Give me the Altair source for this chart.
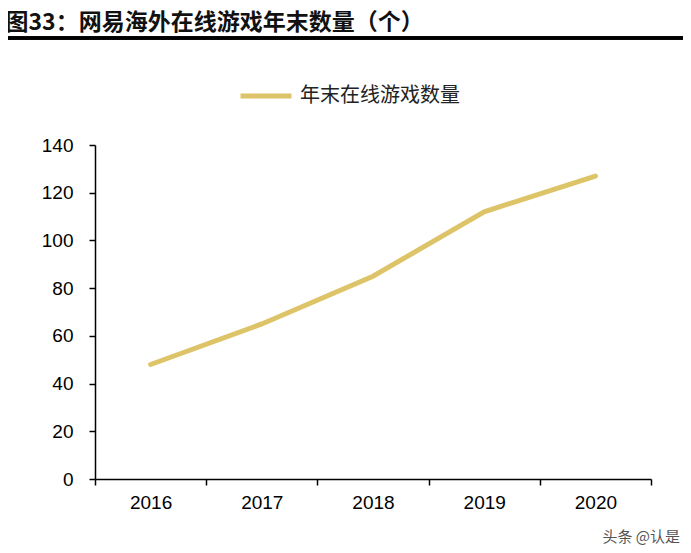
import altair as alt
import pandas as pd

years = ["2016", "2017", "2018", "2019", "2020"]
values = [48, 65, 85, 112, 127]
series_name = "年末在线游戏数量"
title_text = "图33：网易海外在线游戏年末数量（个）"
watermark = "头条 @认是"

df = pd.DataFrame({"year": years, "value": values, "series": [series_name] * len(years)})

line = alt.Chart(df).mark_line(strokeWidth=5, strokeCap="round").encode(
    x=alt.X("year:O", bandPosition=0.5,
            scale=alt.Scale(type="band", paddingInner=0, paddingOuter=0),
            axis=alt.Axis(title=None, labelAngle=0, tickBand="extent",
                          labelFont="Liberation Sans", labelFontSize=19, labelColor="#000",
                          domainColor="#000", domainWidth=1.5, tickColor="#000", tickWidth=1.5,
                          tickSize=6, labelPadding=8)),
    y=alt.Y("value:Q", scale=alt.Scale(domain=[0, 140]),
            axis=alt.Axis(title=None, values=[0, 20, 40, 60, 80, 100, 120, 140],
                          labelFont="Liberation Sans", labelFontSize=19, labelColor="#000",
                          domainColor="#000", domainWidth=1.5, tickColor="#000", tickWidth=1.5,
                          tickSize=6, labelPadding=16, grid=False)),
    color=alt.Color("series:N", scale=alt.Scale(range=["#DEC468"]),
                    legend=alt.Legend(title=None, orient="none", legendX=143, legendY=-77,
                                      symbolType="stroke", symbolSize=2600, symbolStrokeWidth=5,
                                      labelFont="Noto Sans CJK SC", labelFontSize=20,
                                      labelColor="#222", labelOffset=6)),
)

top_rule = alt.Chart(df).mark_rule(color="#000", strokeWidth=3).encode(
    x=alt.value(-90), x2=alt.value(593), y=alt.value(-107))
bottom_rule = alt.Chart(df).mark_rule(color="#000", strokeWidth=2).encode(
    x=alt.value(-90), x2=alt.value(593), y=alt.value(404))
wm = alt.Chart(pd.DataFrame({"t": [watermark]})).mark_text(
    align="right", baseline="middle", fontSize=15, font="Noto Sans CJK SC", color="#555").encode(
    text="t:N", x=alt.value(585), y=alt.value(392))

chart = alt.layer(line, top_rule, bottom_rule, wm).properties(
    width=556, height=334,
    title=alt.TitleParams(title_text, anchor="start", dx=2, offset=2, limit=0,
                          fontSize=23, fontWeight="bold", font="Noto Sans CJK SC", color="#111"),
    autosize="none",
    padding={"left": 87, "top": 137, "right": 32, "bottom": 66},
).configure_view(stroke=None)

chart.save("out.html", embed_options={"renderer": "svg", "actions": False})
